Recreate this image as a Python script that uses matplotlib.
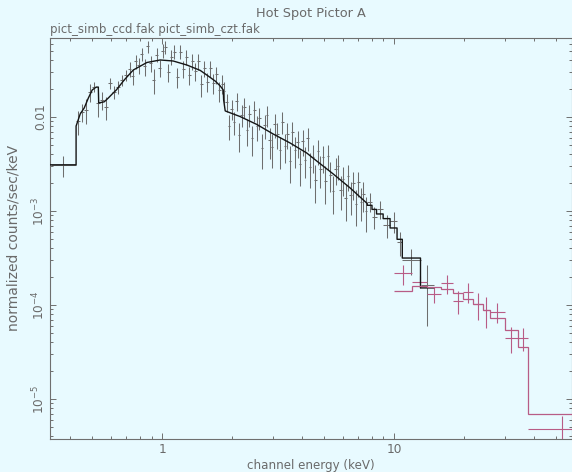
import matplotlib
matplotlib.use("Agg")
import matplotlib.pyplot as plt
import numpy as np
from matplotlib.ticker import FixedLocator, FixedFormatter, LogLocator, NullFormatter

# ---------------- text ----------------
title = "Hot Spot Pictor A"
subtitle = "pict_simb_ccd.fak pict_simb_czt.fak"
xlabel = "channel energy (keV)"
ylabel = "normalized counts/sec/keV"

x_ticks = [1, 10]
x_ticklabels = ["1", "10"]
y_ticks = [1e-5, 1e-4, 1e-3, 1e-2]
y_ticklabels = [r"$10^{-5}$", r"$10^{-4}$", r"$10^{-3}$", "0.01"]
x_range = [0.328, 58.3]
y_range = [3.73e-6, 0.0687]

# ---------------- CCD data (bin edges, rate, relative error) ----------------
ccd_edges = [0.330, 0.425, 0.443, 0.461, 0.480, 0.499, 0.519, 0.540, 0.562, 0.585, 0.609, 0.634, 0.659, 0.686, 0.714,
             0.735, 0.757, 0.780, 0.804, 0.828, 0.852, 0.878, 0.904, 0.931, 0.959, 0.988, 1.018, 1.048, 1.080, 1.112,
             1.145, 1.180, 1.215, 1.252, 1.289, 1.328, 1.368, 1.409, 1.451, 1.494, 1.539, 1.585, 1.633, 1.682, 1.732,
             1.784, 1.838, 1.870,
             1.918, 1.967, 2.017, 2.068, 2.121, 2.175, 2.230, 2.287, 2.346, 2.406,
             2.467, 2.530, 2.594, 2.660, 2.728, 2.798, 2.869, 2.942, 3.017, 3.094,
             3.173, 3.254, 3.337, 3.422, 3.509, 3.599, 3.691, 3.785, 3.881, 3.980,
             4.082, 4.186, 4.293, 4.402, 4.514, 4.630, 4.748, 4.869, 4.993, 5.120,
             5.251, 5.384, 5.522, 5.663, 5.807, 5.955, 6.107, 6.263, 6.422, 6.586,
             6.754, 6.926, 7.103, 7.284, 7.470, 7.660,
             8.030, 8.400, 8.970, 9.610, 10.30, 10.85, 13.00, 14.80]

ccd_rate = [0.00308, 0.0090, 0.0114, 0.0119, 0.0186, 0.0210, 0.0140, 0.0152, 0.0128, 0.0229, 0.0186, 0.0210, 0.0248, 0.0280,
            0.0325, 0.0272, 0.0394, 0.0358, 0.0469, 0.0345, 0.0564, 0.0371, 0.0249, 0.0458, 0.0335, 0.0509, 0.0553,
            0.0302, 0.0433, 0.0494, 0.0266, 0.0496, 0.0327, 0.0432, 0.0278, 0.0390, 0.0308, 0.0392, 0.0223, 0.0330,
            0.0237, 0.0332, 0.0229, 0.0284, 0.0192, 0.0227, 0.0189,
            0.01443, 0.00810, 0.01226, 0.00889, 0.01474, 0.00643, 0.01062, 0.01269, 0.00726, 0.01067,
            0.00596, 0.01180, 0.00794, 0.00985, 0.00466, 0.00817, 0.01039, 0.00563, 0.00474, 0.00832,
            0.00654, 0.00448, 0.00886, 0.00493, 0.00659, 0.00342, 0.00689, 0.00449, 0.00544, 0.00316,
            0.00554, 0.00353, 0.00600, 0.00294, 0.00376, 0.00216, 0.00439, 0.00282, 0.00371, 0.00209,
            0.00387, 0.00244, 0.00164, 0.00277, 0.00302, 0.00169, 0.00221, 0.00136, 0.00236, 0.00147,
            0.00197, 0.00118, 0.00201, 0.00126, 0.00150, 0.00101,
            0.00126, 0.000865, 0.00106, 0.000713, 0.000776, 0.000467, 0.000300, 0.000163]

ccd_relerr = [0.26, 0.28, 0.22, 0.29, 0.22, 0.12, 0.29, 0.21, 0.27, 0.13, 0.16, 0.16, 0.14, 0.14,
              0.18, 0.20, 0.17, 0.19, 0.16, 0.20, 0.15, 0.19, 0.30, 0.17, 0.20, 0.16, 0.15, 0.22, 0.18, 0.17,
              0.24, 0.17, 0.20, 0.18, 0.22, 0.19, 0.21, 0.19, 0.26, 0.20, 0.23, 0.20, 0.24, 0.21, 0.24, 0.22, 0.25,
              0.22, 0.30, 0.24, 0.28, 0.22, 0.34, 0.26, 0.24, 0.32, 0.27,
              0.36, 0.25, 0.30, 0.27, 0.40, 0.29, 0.25, 0.36, 0.39, 0.28,
              0.31, 0.38, 0.26, 0.34, 0.30, 0.42, 0.28, 0.36, 0.32, 0.42,
              0.30, 0.37, 0.28, 0.40, 0.33, 0.44, 0.29, 0.37, 0.32, 0.43,
              0.29, 0.35, 0.43, 0.32, 0.30, 0.40, 0.34, 0.43, 0.31, 0.38,
              0.33, 0.41, 0.30, 0.38, 0.35, 0.41,
              0.22, 0.26, 0.22, 0.27, 0.25, 0.28, 0.30, 0.63]

# CCD folded model curve
ccd_model_e = [0.330, 0.425, 0.425, 0.443, 0.461, 0.480, 0.499, 0.519, 0.530, 0.532, 0.562, 0.585, 0.609, 0.634,
               0.659, 0.686, 0.750, 0.859, 0.980, 1.115, 1.278, 1.458, 1.578, 1.692, 1.778, 1.833, 1.840, 1.869,
               2.168, 2.560, 3.010, 3.560, 4.200, 4.640, 5.460, 6.460, 7.660, 7.660, 8.030, 8.030, 8.400, 8.400,
               8.970, 8.970, 9.610, 9.610, 10.30, 10.30, 10.85, 10.85, 13.00, 13.00, 14.80]
ccd_model_v = [0.00310, 0.00310, 0.00800, 0.01080, 0.01250, 0.01590, 0.01940, 0.02080, 0.02080, 0.01410, 0.01450,
               0.01590, 0.01760, 0.01940, 0.02190, 0.02480, 0.03160, 0.03800, 0.04040, 0.03940, 0.03570, 0.03130,
               0.02730, 0.02410, 0.02140, 0.01940, 0.01520, 0.01160, 0.01010, 0.00832, 0.00659, 0.00529, 0.00414,
               0.00340, 0.00248, 0.00176, 0.00120, 0.00115, 0.00115, 0.00104, 0.00104, 0.00093, 0.00093, 0.00083,
               0.00083, 0.00066, 0.00066, 0.00050, 0.00050, 0.000316, 0.000316, 0.000152, 0.000152]

# ---------------- CZT data ----------------
czt_edges = [10.0, 12.0, 13.9, 15.95, 17.95, 19.8, 21.9, 24.2, 25.9, 30.1, 34.2, 37.8, 74.0]
czt_rate = [2.17e-4, 1.77e-4, 1.31e-4, 1.70e-4, 1.11e-4, 1.38e-4, 1.02e-4, 8.85e-5, 8.5e-5, 4.5e-5, 4.5e-5, 4.77e-6]
czt_err = [5.2e-5, 2.7e-5, 2.6e-5, 4.0e-5, 3.1e-5, 3.3e-5, 3.2e-5, 3.2e-5, 2.0e-5, 1.4e-5, 1.25e-5, 1.75e-6]
czt_model = [1.42e-4, 1.59e-4, 1.55e-4, 1.47e-4, 1.34e-4, 1.15e-4, 1.02e-4, 8.85e-5, 7.3e-5, 5.4e-5, 3.6e-5, 6.9e-6]

# ---------------- style ----------------
bg = "#E8FAFF"
axis_col = "#6f6f6f"
text_col = "#6a6a6a"
ccd_col = "#6e6e6e"
ccd_model_col = "#151515"
czt_col = "#b85c86"

W, H = 572, 472
fig = plt.figure(figsize=(W / 100, H / 100), dpi=100, facecolor=bg)
ax = fig.add_axes([50 / W, (H - 439.3) / H, 521.6 / W, (439.3 - 38.3) / H], facecolor=bg)
ax.set_xscale("log")
ax.set_yscale("log")
ax.set_xlim(*x_range)
ax.set_ylim(*y_range)


def draw_binned(edges, rate, err, color, lw, z):
    e = np.asarray(edges)
    lo, hi = e[:-1], e[1:]
    c = np.sqrt(lo * hi)
    ax.errorbar(c, rate, xerr=[c - lo, hi - c], yerr=err, fmt="none",
                ecolor=color, elinewidth=lw, capsize=0, zorder=z)


ccd_err = np.asarray(ccd_rate) * np.asarray(ccd_relerr)
draw_binned(ccd_edges, ccd_rate, ccd_err, ccd_col, 0.75, 2)
ax.plot(ccd_model_e, ccd_model_v, color=ccd_model_col, lw=1.0, zorder=4)

draw_binned(czt_edges, czt_rate, czt_err, czt_col, 0.8, 3)
ax.stairs(czt_model, czt_edges, baseline=None, color=czt_col, lw=0.9, zorder=4)

# ---------------- axes decoration ----------------
for s in ax.spines.values():
    s.set_color(axis_col)
    s.set_linewidth(0.8)

ax.xaxis.set_major_locator(FixedLocator(x_ticks))
ax.xaxis.set_major_formatter(FixedFormatter(x_ticklabels))
ax.xaxis.set_minor_locator(LogLocator(base=10, subs=np.arange(2, 10)))
ax.xaxis.set_minor_formatter(NullFormatter())
ax.yaxis.set_major_locator(FixedLocator(y_ticks))
ax.yaxis.set_major_formatter(FixedFormatter(y_ticklabels))
ax.yaxis.set_minor_locator(LogLocator(base=10, subs=np.arange(2, 10)))
ax.yaxis.set_minor_formatter(NullFormatter())

ax.tick_params(which="both", direction="in", top=True, right=True, color=axis_col,
               labelcolor=text_col, labelsize=8.7, width=0.7)
ax.tick_params(which="major", length=4.6)
ax.tick_params(which="minor", length=2.3)
ax.tick_params(axis="x", pad=2.5)
ax.tick_params(axis="y", pad=2.0, labelrotation=90)
for lab in ax.get_yticklabels():
    lab.set_va("center")

fig.text(311 / W, (H - 17) / H, title, ha="center", va="baseline", fontsize=9.3, color=text_col)
fig.text(50 / W, (H - 33) / H, subtitle, ha="left", va="baseline", fontsize=8.5, color=text_col)
fig.text(311 / W, 2.5 / H, xlabel, ha="center", va="baseline", fontsize=8.6, color=text_col)
fig.text(18 / W, (H - 238) / H, ylabel, ha="center", va="baseline", rotation=90,
         rotation_mode="anchor", fontsize=10, color=text_col)

fig.savefig("out.png", dpi=100, facecolor=bg)
